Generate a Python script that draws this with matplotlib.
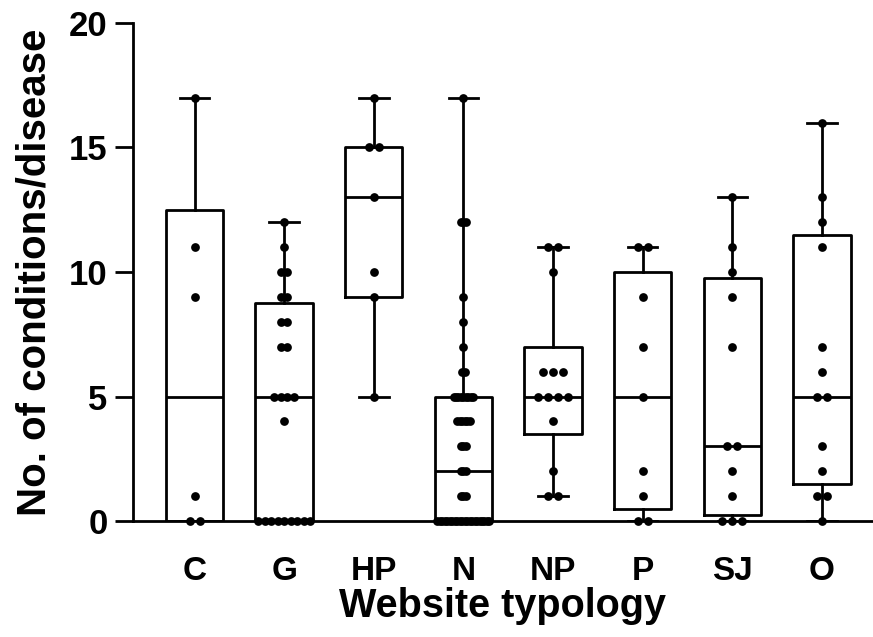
import numpy as np
import matplotlib
matplotlib.use('Agg')
import matplotlib.pyplot as plt

plt.rcParams['font.family'] = ['Liberation Sans', 'DejaVu Sans']
plt.rcParams['font.weight'] = 'bold'

# Data
categories = ['C', 'G', 'HP', 'N', 'NP', 'P', 'SJ', 'O']
c_vals = [0, 0, 1, 9, 11, 17]
g_vals = [0] * 9 + [4] + [5] * 4 + [7, 7, 8, 8, 9, 9, 10, 10, 11, 12]
hp_vals = [5, 9, 10, 13, 15, 15, 17]
n_vals = ([0] * 22 + [1] * 3 + [2] * 3 + [3] * 3 + [4] * 6 + [5] * 9
          + [6] * 2 + [7, 8, 9] + [12] * 3 + [17])
np_vals = [1, 1, 2, 4, 5, 5, 5, 5, 6, 6, 6, 10, 11, 11]
p_vals = [0, 0, 1, 2, 5, 7, 9, 11, 11]
sj_vals = [0, 0, 0, 1, 2, 3, 3, 7, 9, 10, 11, 13]
o_vals = [0, 1, 1, 2, 3, 5, 5, 6, 7, 11, 12, 13, 16]
groups = [c_vals, g_vals, hp_vals, n_vals, np_vals, p_vals, sj_vals, o_vals]

fig = plt.figure(figsize=(8.73, 6.37), dpi=100)
ax = fig.add_axes([0.152, 0.182, 0.848, 0.782])

# box stats like GraphPad (quartiles by (n+1)p, whiskers min to max)
stats = []
for vals in groups:
    v = np.array(vals, dtype=float)
    q1, med, q3 = np.percentile(v, [25, 50, 75], method='weibull')
    stats.append(dict(med=med, q1=q1, q3=q3, whislo=v.min(), whishi=v.max(), fliers=[]))

lw = 2.0
ax.bxp(stats, positions=range(len(groups)), widths=0.64, showfliers=False,
       boxprops=dict(color='black', linewidth=lw),
       medianprops=dict(color='black', linewidth=lw),
       whiskerprops=dict(color='black', linewidth=lw),
       capprops=dict(color='black', linewidth=lw),
       capwidths=0.33, manage_ticks=False)

# scatter points spread sideways
for i, vals in enumerate(groups):
    uniq, counts = np.unique(vals, return_counts=True)
    step = min(0.111, 0.58 / max(counts.max() - 1, 1))
    for u, k in zip(uniq, counts):
        xs = i + (np.arange(k) - (k - 1) / 2) * step
        ax.plot(xs, [u] * k, 'o', color='black', markersize=6.3,
                markeredgewidth=0, clip_on=False, zorder=3)

ax.set_xlim(-0.69, 7.57)
ax.set_ylim(0, 20)
ax.set_yticks([0, 5, 10, 15, 20])
ax.set_xticks(range(len(categories)))
ax.set_xticklabels(categories, fontsize=24, fontweight='bold')
ax.tick_params(axis='x', length=0, pad=25)
ax.tick_params(axis='y', length=13, width=2.0, labelsize=25, pad=5)
for lab in ax.get_yticklabels():
    lab.set_fontweight('bold')

ax.spines['top'].set_visible(False)
ax.spines['right'].set_visible(False)
ax.spines['left'].set_linewidth(2.0)
ax.spines['bottom'].set_linewidth(2.0)

ax.set_xlabel('Website typology', fontsize=28.5, fontweight='bold', labelpad=0)
ax.set_ylabel('No. of conditions/disease', fontsize=29, fontweight='bold', labelpad=11)

fig.savefig('out.png', dpi=100)
